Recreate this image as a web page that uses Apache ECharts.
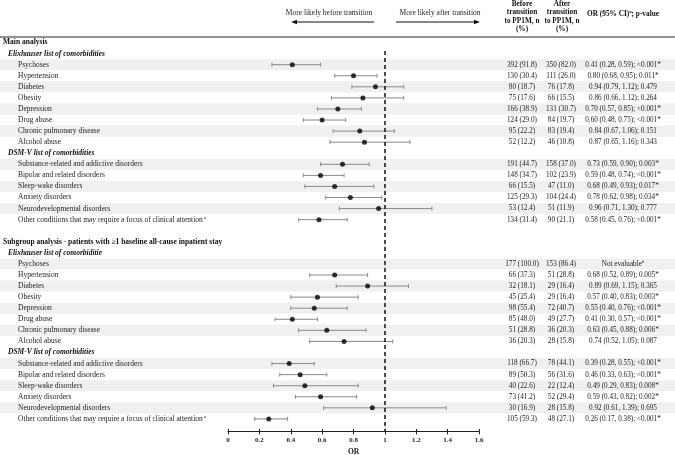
<!DOCTYPE html>
<html>
<head>
<meta charset="utf-8">
<script src="https://cdn.jsdelivr.net/npm/echarts@6/dist/echarts.min.js"></script>
<style>html,body{margin:0;padding:0;background:#fff}#c{width:675px;height:455px}</style>
</head>
<body>
<div id="c"></div>
<script>
const rowLabels = [
  "Main analysis",
  "Elixhauser list of comorbidities",
  "Psychoses","Hypertension","Diabetes","Obesity","Depression","Drug abuse","Chronic pulmonary disease","Alcohol abuse",
  "DSM-V list of comorbidities",
  "Substance-related and addictive disorders","Bipolar and related disorders","Sleep-wake disorders","Anxiety disorders","Neurodevelopmental disorders","Other conditions that may require a focus of clinical attention",
  "",
  "Subgroup analysis - patients with \u22651 baseline all-cause inpatient stay",
  "Elixhauser list of comorbiditie",
  "Psychoses","Hypertension","Diabetes","Obesity","Depression","Drug abuse","Chronic pulmonary disease","Alcohol abuse",
  "DSM-V list of comorbidities",
  "Substance-related and addictive disorders","Bipolar and related disorders","Sleep-wake disorders","Anxiety disorders","Neurodevelopmental disorders","Other conditions that may require a focus of clinical attention"
];
const rowKinds = ['h','s','i','i','i','i','i','i','i','i','s','i','i','i','i','i','i','b','h','s','i','i','i','i','i','i','i','i','s','i','i','i','i','i','i'];
const footnoteRows = {16:'a', 34:'a'};

const orEst  = [null,null,0.41,0.80,0.94,0.86,0.70,0.60,0.84,0.87,null,0.73,0.59,0.68,0.78,0.96,0.58,null,null,null,null,0.68,0.89,0.57,0.55,0.41,0.63,0.74,null,0.39,0.46,0.49,0.59,0.92,0.26];
const ciLow  = [null,null,0.28,0.68,0.79,0.66,0.57,0.48,0.67,0.65,null,0.59,0.48,0.49,0.62,0.71,0.45,null,null,null,null,0.52,0.69,0.40,0.40,0.30,0.45,0.52,null,0.28,0.33,0.29,0.43,0.61,0.17];
const ciHigh = [null,null,0.59,0.95,1.12,1.12,0.85,0.75,1.06,1.16,null,0.90,0.74,0.93,0.98,1.30,0.76,null,null,null,null,0.89,1.15,0.83,0.76,0.57,0.88,1.05,null,0.55,0.63,0.83,0.82,1.39,0.38];
const pValues = ['','','<0.001*','0.011*','0.479','0.264','<0.001*','<0.001*','0.151','0.343','','0.003*','<0.001*','0.017*','0.034*','0.777','<0.001*','','','','NE','0.005*','0.365','0.003*','<0.001*','<0.001*','0.006*','0.087','','<0.001*','<0.001*','0.008*','0.002*','0.695','<0.001*'];
const beforeN = ['','','392 (91.8)','130 (30.4)','80 (18.7)','75 (17.6)','166 (38.9)','124 (29.0)','95 (22.2)','52 (12.2)','','191 (44.7)','148 (34.7)','66 (15.5)','125 (29.3)','53 (12.4)','134 (31.4)','','','','177 (100.0)','66 (37.3)','32 (18.1)','45 (25.4)','98 (55.4)','85 (48.0)','51 (28.8)','36 (20.3)','','118 (66.7)','89 (50.3)','40 (22.6)','73 (41.2)','30 (16.9)','105 (59.3)'];
const afterN  = ['','','350 (82.0)','111 (26.0)','76 (17.8)','66 (15.5)','131 (30.7)','84 (19.7)','83 (19.4)','46 (10.8)','','158 (37.0)','102 (23.9)','47 (11.0)','104 (24.4)','51 (11.9)','90 (21.1)','','','','153 (86.4)','51 (28.8)','29 (16.4)','29 (16.4)','72 (40.7)','49 (27.7)','36 (20.3)','28 (15.8)','','78 (44.1)','56 (31.6)','22 (12.4)','52 (29.4)','28 (15.8)','48 (27.1)'];
const xTicks = [0,0.2,0.4,0.6,0.8,1,1.2,1.4,1.6];

const FONT = '"Liberation Serif", "Times New Roman", serif';
const TXT = '#222';
const FS = 7.5;
const FS_TAB = 7.2;
const rowIds = rowLabels.map((_, i) => 'r' + i);

// OR text column
const orText = orEst.map((v, i) => {
  if (pValues[i] === 'NE') return 'NE';
  if (v == null) return '';
  return v.toFixed(2) + ' (' + ciLow[i].toFixed(2) + ', ' + ciHigh[i].toFixed(2) + '); ' + pValues[i];
});

// stripes: alternating item rows within each group, starting shaded
const stripe = [];
let cnt = 0;
rowKinds.forEach((k) => {
  if (k === 'i') { stripe.push(cnt % 2 === 0 ? 1 : '-'); cnt++; }
  else { stripe.push('-'); cnt = 0; }
});

const ciData = [];
const ptData = [];
orEst.forEach((v, i) => {
  if (v != null) { ciData.push([i, ciLow[i], ciHigh[i]]); ptData.push([v, i]); }
});

const GRID_TOP = 37, ROW_H = 11.07, NROWS = rowLabels.length;
const GRID_H = ROW_H * NROWS;

const tabFont = { fontFamily: FONT, fontSize: FS_TAB, color: TXT };

function colAxis(arr, margin) {
  return {
    type: 'category', gridIndex: 0, position: 'right', inverse: true, data: rowIds, z: 10,
    axisLine: {show: false}, axisTick: {show: false}, splitLine: {show: false},
    axisLabel: Object.assign({}, tabFont, {
      interval: 0, margin: margin, align: 'center',
      formatter: (v, i) => {
        const t = arr[i];
        if (t === 'NE') return '{n|Not evaluable}{sup|b}';
        return t ? '{n|' + t + '}' : '';
      },
      rich: {
        n: Object.assign({}, tabFont),
        sup: {fontFamily: FONT, fontSize: 4.8, color: TXT, verticalAlign: 'top', padding: [0,0,4,0]}
      }
    })
  };
}

const chart = echarts.init(document.getElementById('c'), null, {renderer: 'canvas'});
chart.setOption({
  animation: false,
  backgroundColor: '#fff',
  textStyle: {fontFamily: FONT},
  grid: [
    {left: 228, width: 251, top: GRID_TOP, height: GRID_H, outerBoundsMode: 'none', containLabel: false},
    {left: 0, right: 0, top: GRID_TOP, height: GRID_H, outerBoundsMode: 'none', containLabel: false}
  ],
  xAxis: [
    {
      type: 'value', gridIndex: 0, min: 0, max: 1.6, interval: 0.2, position: 'bottom', offset: 7, z: 10,
      axisLine: {show: true, lineStyle: {color: '#222', width: 1}},
      axisTick: {show: true, length: 3, lineStyle: {color: '#222'}},
      splitLine: {show: false},
      axisLabel: {fontFamily: FONT, fontSize: 7, fontWeight: 'bold', color: TXT, margin: 5,
        formatter: (v) => xTicks.indexOf(+v.toFixed(1)) >= 0 ? String(+v.toFixed(1)) : ''},
      name: 'OR', nameLocation: 'middle', nameGap: 17,
      nameTextStyle: {fontFamily: FONT, fontSize: 7.5, fontWeight: 'bold', color: TXT}
    },
    {
      type: 'value', gridIndex: 0, min: 0, max: 1.6, interval: 0.2, position: 'bottom', offset: 7, z: 10,
      axisLine: {show: false}, axisLabel: {show: false}, splitLine: {show: false},
      axisTick: {show: true, inside: true, length: 2.5, lineStyle: {color: '#222'}}
    },
    {
      type: 'value', gridIndex: 1, min: 0, max: 1, position: 'top', z: 10,
      axisLine: {show: true, lineStyle: {color: '#6e6e6e', width: 1.6}},
      axisTick: {show: false}, axisLabel: {show: false}, splitLine: {show: false}
    }
  ],
  yAxis: [
    {
      type: 'category', gridIndex: 0, inverse: true, data: rowIds, z: 10,
      axisLine: {show: false}, axisTick: {show: false}, splitLine: {show: false},
      axisLabel: {
        interval: 0, align: 'left', margin: 225, fontFamily: FONT, fontSize: FS, color: TXT,
        formatter: (v, i) => {
          const k = rowKinds[i], t = rowLabels[i];
          if (!t) return '';
          let s = '{' + k + '|' + t + '}';
          if (footnoteRows[i]) s += '{sup|' + footnoteRows[i] + '}';
          return s;
        },
        rich: {
          h: {fontFamily: FONT, fontSize: FS, fontWeight: 'bold', color: '#111'},
          s: {fontFamily: FONT, fontSize: FS, fontWeight: 'bold', fontStyle: 'italic', color: '#111', padding: [0,0,0,5]},
          i: {fontFamily: FONT, fontSize: FS, color: TXT, padding: [0,0,0,15]},
          sup: {fontFamily: FONT, fontSize: 4.8, color: TXT, verticalAlign: 'top', padding: [0,0,4,1]}
        }
      }
    },
    colAxis(beforeN, 43),
    colAxis(afterN, 82),
    colAxis(orText, 144),
    {
      type: 'category', gridIndex: 1, inverse: true, data: rowIds,
      axisLine: {show: false}, axisTick: {show: false}, axisLabel: {show: false}, splitLine: {show: false}
    }
  ],
  series: [
    {
      type: 'bar', xAxisIndex: 2, yAxisIndex: 4, data: stripe, barWidth: '100%', silent: true, z: 1,
      itemStyle: {color: '#f0f0f0'}
    },
    {
      type: 'custom', xAxisIndex: 0, yAxisIndex: 0, z: 3, silent: true,
      data: ciData, encode: {x: [1, 2], y: 0},
      renderItem: (params, api) => {
        const r = api.value(0);
        const lo = api.coord([api.value(1), r]);
        const hi = api.coord([api.value(2), r]);
        const st = {stroke: '#8a8a8a', lineWidth: 1};
        const c = 2;
        return {type: 'group', children: [
          {type: 'line', shape: {x1: lo[0], y1: lo[1], x2: hi[0], y2: hi[1]}, style: st},
          {type: 'line', shape: {x1: lo[0], y1: lo[1] - c, x2: lo[0], y2: lo[1] + c}, style: st},
          {type: 'line', shape: {x1: hi[0], y1: hi[1] - c, x2: hi[0], y2: hi[1] + c}, style: st}
        ]};
      }
    },
    {
      type: 'scatter', xAxisIndex: 0, yAxisIndex: 0, z: 5, silent: true,
      data: ptData, symbol: 'circle', symbolSize: 5, itemStyle: {color: '#000'},
      markLine: {
        silent: true, symbol: 'none', label: {show: false}, z: 4,
        lineStyle: {type: [4, 3], color: '#111', width: 1.5},
        data: [[{xAxis: 1, y: 51}, {xAxis: 1, y: 431}]]
      }
    }
  ],
  graphic: [
    {type: 'text', x: 329, y: 13, z: 20, style: {text: 'More likely before transition', fontFamily: FONT, fontSize: 7.5, fill: TXT, align: 'center', verticalAlign: 'middle'}},
    {type: 'text', x: 440, y: 13, z: 20, style: {text: 'More likely after transition', fontFamily: FONT, fontSize: 7.5, fill: TXT, align: 'center', verticalAlign: 'middle'}},
    {type: 'line', z: 20, shape: {x1: 295, y1: 22, x2: 374, y2: 22}, style: {stroke: '#111', lineWidth: 1}},
    {type: 'polygon', z: 20, shape: {points: [[291, 22], [297, 19.8], [297, 24.2]]}, style: {fill: '#111'}},
    {type: 'line', z: 20, shape: {x1: 396, y1: 22, x2: 476, y2: 22}, style: {stroke: '#111', lineWidth: 1}},
    {type: 'polygon', z: 20, shape: {points: [[480, 22], [474, 19.8], [474, 24.2]]}, style: {fill: '#111'}},
    {type: 'text', x: 522, y: 0, z: 20, style: {text: 'Before\ntransition\nto PP1M, n\n(%)', fontFamily: FONT, fontSize: 7.3, fontWeight: 'bold', fill: '#111', align: 'center', verticalAlign: 'top', lineHeight: 8.4}},
    {type: 'text', x: 562, y: 0, z: 20, style: {text: 'After\ntransition\nto PP1M, n\n(%)', fontFamily: FONT, fontSize: 7.3, fontWeight: 'bold', fill: '#111', align: 'center', verticalAlign: 'top', lineHeight: 8.4}},
    {type: 'text', x: 623, y: 14, z: 20, style: {
      text: '{t|OR (95% CI)}{sup|a}{t|; p-value}', align: 'center', verticalAlign: 'middle',
      rich: {
        t: {fontFamily: FONT, fontSize: 7.3, fontWeight: 'bold', fill: '#111'},
        sup: {fontFamily: FONT, fontSize: 4.8, fontWeight: 'bold', fill: '#111', verticalAlign: 'top', padding: [0,0,4,0]}
      }
    }}
  ]
});
</script>
</body>
</html>
